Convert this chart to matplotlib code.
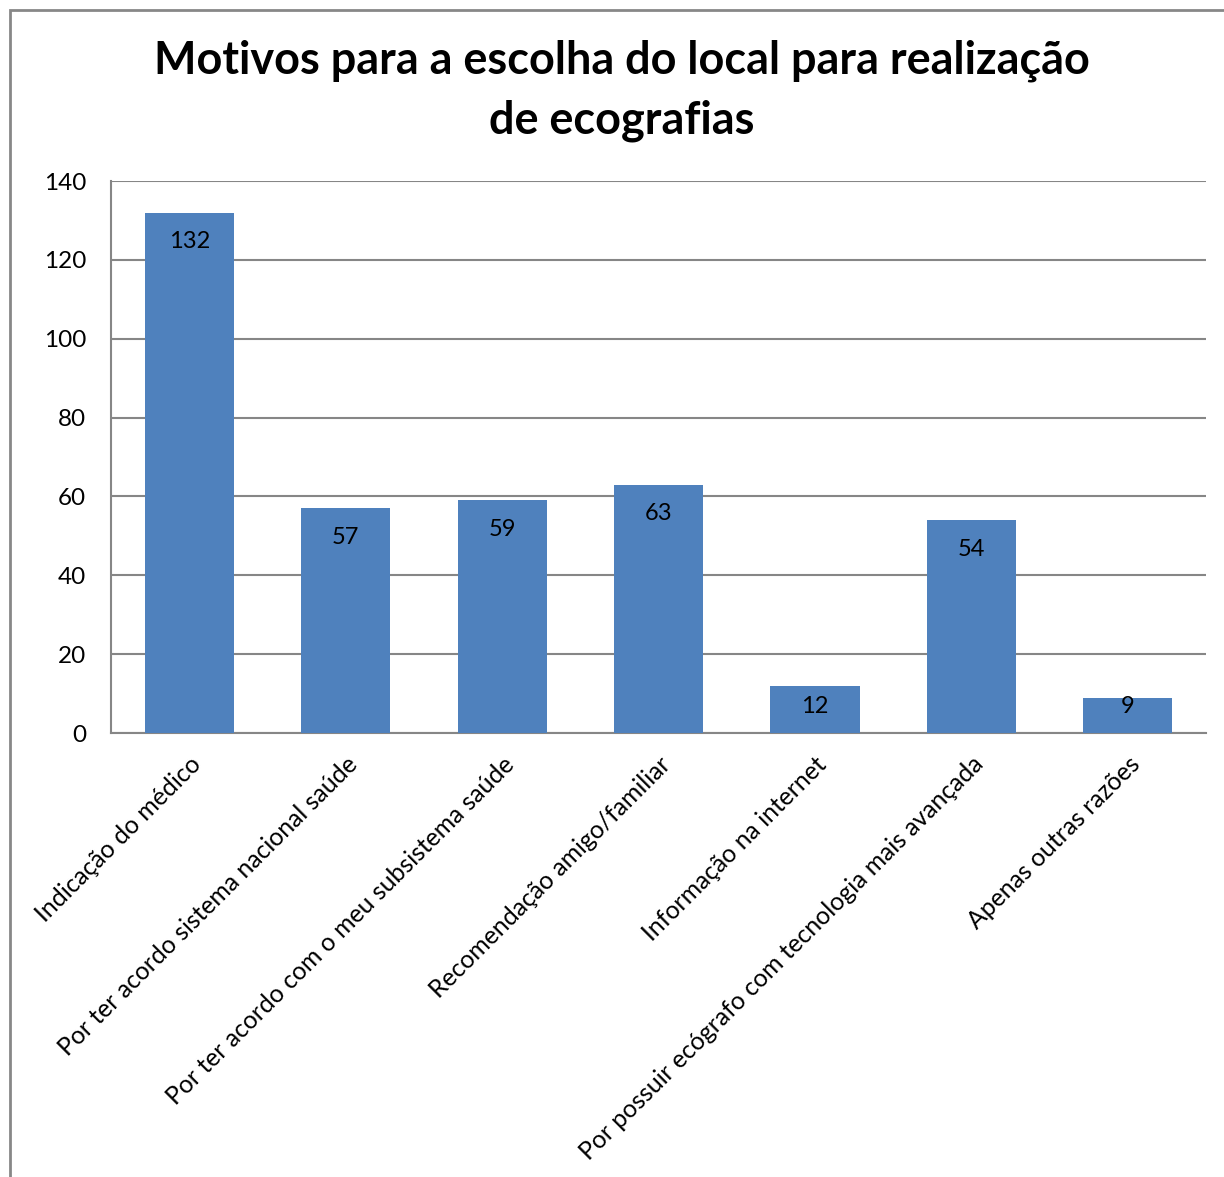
import matplotlib
matplotlib.use("Agg")
import matplotlib.pyplot as plt
from matplotlib.patches import Rectangle

plt.rcParams['font.family'] = ['Lato', 'DejaVu Sans']

motivos = [
    "Indicação do médico",
    "Por ter acordo sistema nacional saúde",
    "Por ter acordo com o meu subsistema saúde",
    "Recomendação amigo/familiar",
    "Informação na internet",
    "Por possuir ecógrafo com tecnologia mais avançada",
    "Apenas outras razões",
]
respostas = [132, 57, 59, 63, 12, 54, 9]
y_ticks = [0, 20, 40, 60, 80, 100, 120, 140]

bar_color = '#4F81BD'
grid_color = '#868686'

fig = plt.figure(figsize=(12.24, 11.77), dpi=100)
ax = fig.add_axes([0.0907, 0.3772, 0.8946, 0.469])

x = list(range(len(motivos)))
ax.bar(x, respostas, width=0.57, color=bar_color, zorder=3)

# value labels just inside the top of each bar (kept above the axis for short bars)
for xi, v in zip(x, respostas):
    ax.text(xi, max(v - 7.4, 6.8), str(v), ha='center', va='center',
            fontsize=17, color='black', zorder=4)

ax.set_xlim(-0.5, len(motivos) - 0.5)
ax.set_ylim(0, 140)
ax.set_yticks(y_ticks)
ax.tick_params(axis='y', length=0, pad=18, labelsize=17.5)
ax.tick_params(axis='x', length=0, pad=14)
ax.set_xticks(x)
ax.set_xticklabels(motivos, rotation=45, ha='right', rotation_mode='anchor',
                   fontsize=17.8)

ax.yaxis.grid(True, color=grid_color, linewidth=1.5, zorder=0)
ax.set_axisbelow(True)
for side in ['top', 'right']:
    ax.spines[side].set_visible(False)
for side in ['left', 'bottom']:
    ax.spines[side].set_color(grid_color)
    ax.spines[side].set_linewidth(1.5)

fig.text(0.508, 0.9227, "Motivos para a escolha do local para realização\nde ecografias",
         ha='center', va='center', fontsize=32.4, fontweight='bold', linespacing=1.5)

# outer chart frame
fig.patches.append(Rectangle((10 / 1224, -0.01), 1.0, 1 - 10 / 1177 + 0.01,
                             transform=fig.transFigure, fill=False,
                             edgecolor='#878787', linewidth=2))

fig.savefig('out.png', dpi=100)
